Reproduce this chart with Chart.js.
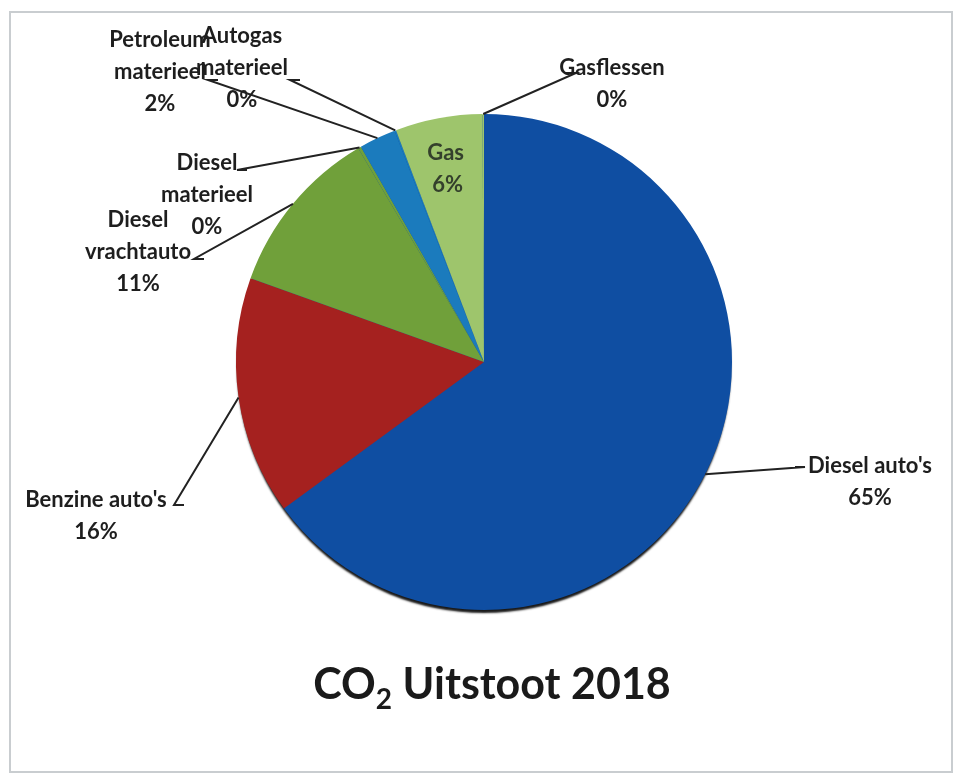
<!DOCTYPE html>
<html lang="nl">
<head>
    <meta charset="UTF-8">
    <title>CO2 Uitstoot 2018</title>
    <script src="https://cdn.jsdelivr.net/npm/chart.js"></script>
    <style>
        body { margin: 0; background: #fff; }
        #wrap { width: 955px; height: 775px; position: relative; }
    </style>
</head>
<body>
    <div id="wrap"><canvas id="myChart" width="955" height="775"></canvas></div>

    <script>
        // slices, clockwise from 12 o'clock
        const categories = [
            "Diesel auto's", "Benzine auto's", 'Diesel vrachtauto', 'Diesel materieel',
            'Petroleum materieel', 'Autogas materieel', 'Gas', 'Gasflessen'
        ];
        const values = [65.2, 15.6, 11.1, 0.2, 2.4, 0.1, 5.7, 0.1];
        const labelLines = [
            ["Diesel auto's"], ["Benzine auto's"], ['Diesel', 'vrachtauto'], ['Diesel', 'materieel'],
            ['Petroleum', 'materieel'], ['Autogas', 'materieel'], ['Gas'], ['Gasflessen']
        ];
        const colors = ['#0f4ea2', '#a5211f', '#70a03a', '#70a03a', '#1b7bbd', '#1b7bbd', '#9ec56c', '#9ec56c'];

        // label layout: text centre x, first line y, elbow point of the leader line
        const labelPos = [
            { x: 870, y: 466, ex: 795, ey: 467, inside: false },
            { x: 96, y: 500, ex: 184, ey: 505, inside: false },
            { x: 138, y: 220, ex: 204, ey: 259, inside: false },
            { x: 207, y: 163, ex: 247, ey: 170, inside: false },
            { x: 160, y: 40, ex: 218, ey: 80, inside: false },
            { x: 242, y: 36, ex: 300, ey: 80, inside: false },
            { x: 0, y: 0, ex: 0, ey: 0, inside: true },
            { x: 612, y: 68, ex: 566, ey: 73, inside: false }
        ];
        const lineGap = 32;

        const total = values.reduce((a, b) => a + b, 0);
        const pct = v => Math.round(v / total * 100) + '%';

        const labelPlugin = {
            id: 'pieLabels',
            beforeDraw(chart) {
                const ctx = chart.ctx;
                ctx.save();
                ctx.fillStyle = '#fff';
                ctx.fillRect(0, 0, chart.width, chart.height);
                ctx.strokeStyle = '#c9cdd0';
                ctx.lineWidth = 2;
                ctx.strokeRect(10, 12, 942, 760);
                ctx.restore();
            },
            beforeDatasetDraw(chart) {
                // one shadowed disc behind the slices, so no shadow between slices
                const ctx = chart.ctx;
                const arc = chart.getDatasetMeta(0).data[0];
                ctx.save();
                ctx.shadowColor = 'rgba(0,0,0,0.9)';
                ctx.shadowBlur = 2;
                ctx.shadowOffsetY = 4;
                ctx.fillStyle = colors[0];
                ctx.beginPath();
                ctx.arc(arc.x, arc.y, arc.outerRadius - 1, 0, Math.PI * 2);
                ctx.fill();
                ctx.restore();
            },
            afterDraw(chart) {
                const ctx = chart.ctx;
                const arcs = chart.getDatasetMeta(0).data;
                ctx.save();
                ctx.font = 'bold 22px Lato';
                ctx.textAlign = 'center';
                ctx.textBaseline = 'middle';
                arcs.forEach((arc, i) => {
                    const p = labelPos[i];
                    const mid = (arc.startAngle + arc.endAngle) / 2;
                    const lines = labelLines[i].concat([pct(values[i])]);
                    if (p.inside) {
                        const r = arc.outerRadius * 0.8;
                        const cx = arc.x + Math.cos(mid) * r;
                        const cy = arc.y + Math.sin(mid) * r;
                        ctx.fillStyle = '#34402c';
                        ctx.fillText(lines[0], cx - 2, cy - 14);
                        ctx.fillText(lines[1], cx, cy + 18);
                        return;
                    }
                    const sx = arc.x + Math.cos(mid) * arc.outerRadius;
                    const sy = arc.y + Math.sin(mid) * arc.outerRadius;
                    const dir = p.ex > sx ? 1 : -1;
                    ctx.strokeStyle = '#222';
                    ctx.lineWidth = 2;
                    ctx.beginPath();
                    ctx.moveTo(sx, sy);
                    ctx.lineTo(p.ex + dir * 10, p.ey);
                    ctx.lineTo(p.ex, p.ey);
                    ctx.stroke();
                    ctx.fillStyle = '#1e1e1e';
                    lines.forEach((t, k) => ctx.fillText(t, p.x, p.y + k * lineGap));
                });

                // title with subscript 2
                ctx.fillStyle = '#1a1a1a';
                ctx.textAlign = 'left';
                ctx.textBaseline = 'alphabetic';
                const big = 'bold 43px Lato';
                const small = 'bold 28px Lato';
                ctx.font = big;
                const w1 = ctx.measureText('CO').width;
                const w3 = ctx.measureText(' Uitstoot 2018').width;
                ctx.font = small;
                const w2 = ctx.measureText('2').width;
                let x = 492 - (w1 + w2 + w3) / 2;
                const base = 699;
                ctx.font = big;
                ctx.fillText('CO', x, base);
                x += w1;
                ctx.font = small;
                ctx.fillText('2', x, base + 10);
                x += w2;
                ctx.font = big;
                ctx.fillText(' Uitstoot 2018', x, base);
                ctx.restore();
            }
        };

        const ctx = document.getElementById('myChart').getContext('2d');
        const myChart = new Chart(ctx, {
            type: 'pie',
            data: {
                labels: categories,
                datasets: [{
                    data: values,
                    backgroundColor: colors,
                    borderColor: colors,
                    borderWidth: 0
                }]
            },
            options: {
                responsive: false,
                animation: false,
                layout: { padding: { left: 236, right: 223, top: 114, bottom: 165 } },
                plugins: {
                    legend: { display: false },
                    tooltip: { enabled: false }
                }
            },
            plugins: [labelPlugin]
        });
    </script>
</body>
</html>
